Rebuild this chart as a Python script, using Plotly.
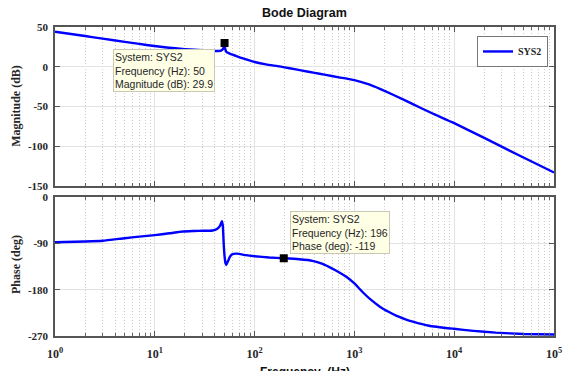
import plotly.graph_objects as go

# ---------------- data ----------------
freq_mag = [1, 2, 3, 5, 7, 9, 12, 16, 20, 25, 30, 35, 40, 44, 46, 48, 49, 50, 51, 52,
            54, 57, 60, 65, 75, 90, 100, 130, 178, 224, 300, 400, 500, 700, 1000, 1400,
            1800, 2500, 3850, 6000, 10000, 20000, 50000, 100000]
mag_db = [44, 38.6, 35.4, 31.3, 28.7, 26.8, 24.8, 23.2, 22.2, 21.3, 20.7, 20.2, 19.8,
          19.8, 20.3, 22, 24.5, 26.5, 21.5, 19, 17.6, 16.3, 15.2, 13.6, 10.8, 7.6, 6.0,
          3.0, 0.4, -1.9, -4.8, -7.7, -9.9, -13.3, -16.9, -22.3, -27.8, -35.8, -47,
          -58.5, -71, -89.5, -114.5, -133]

freq_ph = [1, 2, 3, 5, 7, 10, 14, 19, 25, 30, 35, 38, 42, 45, 47, 48, 49, 50, 51, 52,
           54, 57, 60, 65, 70, 82, 100, 140, 196, 280, 380, 480, 600, 700, 830, 1000,
           1200, 1450, 1800, 2200, 2650, 3200, 3850, 5600, 9900, 15600, 26000, 50000,
           100000]
phase_deg = [-88, -86.5, -85, -80, -77, -74, -70.5, -67, -66, -65.5, -65.5, -65, -62,
             -56, -47, -55, -90, -115, -128, -132, -125, -115, -111, -110, -110.5, -113,
             -115, -117.5, -119, -121, -124, -130, -139, -146, -155, -168, -184, -199,
             -213, -223, -231, -237, -242, -250, -256, -260, -263.5, -266, -267]

tip_mag_freq = [50]
tip_mag_val = [29.9]
tip_ph_freq = [196]
tip_ph_val = [-119]

x_ticks = [1, 10, 100, 1000, 10000, 100000]
x_tick_labels = ["10<sup>0</sup>", "10<sup>1</sup>", "10<sup>2</sup>",
                 "10<sup>3</sup>", "10<sup>4</sup>", "10<sup>5</sup>"]
mag_ticks = [50, 0, -50, -100, -150]
mag_tick_labels = ["50", "0", "-50", "-100", "-150"]
ph_ticks = [0, -90, -180, -270]
ph_tick_labels = ["0", "-90", "-180", "-270"]
minor_x = [m * 10 ** k for k in range(5) for m in range(2, 10)]

# ---------------- figure ----------------
BLUE = "#0000ff"
fig = go.Figure()
fig.add_trace(go.Scatter(x=freq_mag, y=mag_db, mode="lines", name="SYS2",
                         line=dict(color=BLUE, width=2.4), xaxis="x", yaxis="y",
                         line_shape="spline", line_smoothing=0.5, showlegend=True))
fig.add_trace(go.Scatter(x=freq_ph, y=phase_deg, mode="lines", name="SYS2",
                         line=dict(color=BLUE, width=2.4), xaxis="x2", yaxis="y2",
                         line_shape="spline", line_smoothing=0.5, showlegend=False))
fig.add_trace(go.Scatter(x=tip_mag_freq, y=tip_mag_val, mode="markers",
                         marker=dict(symbol="square", size=8, color="black"),
                         xaxis="x", yaxis="y", showlegend=False))
fig.add_trace(go.Scatter(x=tip_ph_freq, y=tip_ph_val, mode="markers",
                         marker=dict(symbol="square", size=8, color="black"),
                         xaxis="x2", yaxis="y2", showlegend=False))

serif_bold = dict(family="Liberation Serif", size=11, color="#262626", weight="bold")
axis_common = dict(showline=True, linecolor="#555555", linewidth=1.5, mirror="allticks",
                   ticks="inside", ticklen=5, tickcolor="#555555", showgrid=True,
                   gridcolor="#e3e3e3", gridwidth=1, zeroline=False, automargin=False)
minor_common = dict(ticks="inside", ticklen=3, tickcolor="#666666", showgrid=True,
                    gridcolor="#cccccc", griddash="1px,2px", tickvals=minor_x)

fig.update_layout(
    width=563, height=371,
    margin=dict(l=55, r=9, t=27, b=35),
    paper_bgcolor="white", plot_bgcolor="white",
    hovermode=False,
    xaxis=dict(type="log", range=[0, 5], domain=[0, 1], anchor="y",
               tickvals=x_ticks, showticklabels=False, minor=minor_common, **axis_common),
    yaxis=dict(range=[-150, 50], domain=[0.4854, 1], anchor="x",
               tickvals=mag_ticks, ticktext=mag_tick_labels, tickfont=serif_bold,
               ticklabelstandoff=3, **axis_common),
    xaxis2=dict(type="log", range=[0, 5], domain=[0, 1], anchor="y2",
                tickvals=x_ticks, ticktext=x_tick_labels,
                tickfont=dict(family="Liberation Serif", size=12, color="#262626", weight="bold"),
                ticklabelstandoff=6, minor=minor_common, **axis_common),
    yaxis2=dict(range=[-270, 0], domain=[0, 0.4498], anchor="x2",
                tickvals=ph_ticks, ticktext=ph_tick_labels, tickfont=serif_bold,
                ticklabelstandoff=3, **axis_common),
    legend=dict(x=0.988, y=0.971, xanchor="right", yanchor="top",
                bgcolor="white", bordercolor="#777777", borderwidth=1,
                font=dict(family="Liberation Serif", size=10, color="#262626", weight="bold"),
                itemwidth=30, tracegroupgap=0),
)

ann_font = dict(family="Liberation Sans", size=10.5, color="#262626")
fig.add_annotation(xref="paper", yref="paper", x=0.5, y=1.045, xanchor="center",
                   yanchor="middle", showarrow=False, text="<b>Bode Diagram</b>",
                   font=dict(family="Liberation Sans", size=12.5, color="#111111"))
fig.add_annotation(xref="paper", yref="paper", x=0.5, y=-0.088, xanchor="center",
                   yanchor="top", showarrow=False, text="<b>Frequency  (Hz)</b>",
                   font=dict(family="Liberation Sans", size=12, color="#111111"))
fig.add_annotation(xref="paper", yref="paper", x=-0.078, y=0.745, xanchor="center",
                   yanchor="middle", showarrow=False, textangle=-90,
                   text="<b>Magnitude (dB)</b>",
                   font=dict(family="Liberation Serif", size=12, color="#262626"))
fig.add_annotation(xref="paper", yref="paper", x=-0.078, y=0.23, xanchor="center",
                   yanchor="middle", showarrow=False, textangle=-90,
                   text="<b>Phase (deg)</b>",
                   font=dict(family="Liberation Serif", size=12, color="#262626"))

tip1 = "System: SYS2<br>Frequency (Hz): {}<br>Magnitude (dB): {}".format(tip_mag_freq[0], tip_mag_val[0])
tip2 = "System: SYS2<br>Frequency (Hz): {}<br>Phase (deg): {}".format(tip_ph_freq[0], tip_ph_val[0])
fig.add_annotation(xref="paper", yref="paper", x=0.1162, y=0.9288, xanchor="left",
                   yanchor="top", showarrow=False, text=tip1, align="left",
                   bgcolor="#ffffe6", bordercolor="#c8c8b4", borderwidth=1, borderpad=1,
                   font=ann_font)
fig.add_annotation(xref="paper", yref="paper", x=0.471, y=0.4045, xanchor="left",
                   yanchor="top", showarrow=False, text=tip2, align="left",
                   bgcolor="#ffffe6", bordercolor="#c8c8b4", borderwidth=1, borderpad=1,
                   font=ann_font)

fig.write_html("out.html")
